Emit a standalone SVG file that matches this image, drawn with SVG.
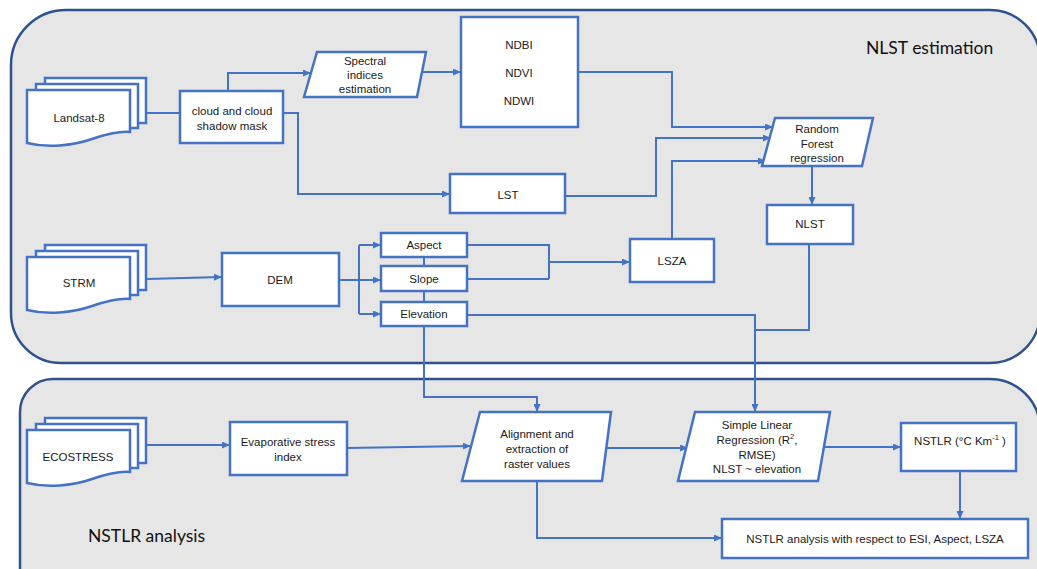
<svg xmlns="http://www.w3.org/2000/svg" xmlns:xlink="http://www.w3.org/1999/xlink" width="1037" height="569" viewBox="0 0 1037 569">
<style>
.panel{fill:#e7e6e6;stroke:#2f528f;stroke-width:2.5}
.box{fill:#fff;stroke:#4472c4;stroke-width:2.5}
.con{fill:none;stroke:#4472c4;stroke-width:2}
.arr{marker-end:url(#ah)}
.t{font-family:"Liberation Sans",Arial,sans-serif;font-size:11.5px;fill:#1a1a1a;text-anchor:middle;dominant-baseline:central}
.pl{font-family:Lato,"Open Sans",sans-serif;font-size:17.5px;fill:#111;dominant-baseline:central}
</style>
<defs>
<marker id="ah" markerWidth="8" markerHeight="7" refX="7" refY="3.5" orient="auto" markerUnits="userSpaceOnUse">
<path d="M0,0 L8,3.5 L0,7 Z" fill="#4472c4"/>
</marker>
<g id="mdoc">
<rect x="18" y="-12" width="101" height="45" class="box"/>
<rect x="9" y="-6" width="102" height="44" class="box"/>
<path d="M0,0 H103 V42 C92,41 80,44 65,49 C45,56 20,58 0,53 Z" class="box"/>
</g>
</defs>

<g id="panel-nlst">
<path class="panel" d="M66,10 H990 A50,50 0 0 1 1040,60 V313 A50,50 0 0 1 990,363 H61 A50,50 0 0 1 11,313 V65 A55,55 0 0 1 66,10 Z"/>
<text class="pl" x="866" y="47">NLST estimation</text>
</g>
<g id="panel-nstlr">
<path class="panel" d="M53,379 H990 A50,50 0 0 1 1040,429 V575 H20 V412 A33,33 0 0 1 53,379 Z"/>
<text class="pl" x="88" y="535">NSTLR analysis</text>
</g>

<g id="connectors">
<path class="con" d="M147,113 H180"/>
<path class="con arr" d="M228,91 V73 H310"/>
<path class="con arr" d="M283,113 H298 V194 H449"/>
<path class="con arr" d="M418,72 H460"/>
<path class="con arr" d="M578,72 H672 V127 H772"/>
<path class="con arr" d="M565,196 H656 V138 H770"/>
<path class="con arr" d="M672,239 V161 H765"/>
<path class="con arr" d="M812,166 V204"/>
<path class="con" d="M809,244 V330 H755"/>
<path class="con arr" d="M147,279 L221,277"/>
<path class="con" d="M339,280 H359 M359,245 V314"/>
<path class="con arr" d="M359,245 H380"/>
<path class="con arr" d="M359,280 H380"/>
<path class="con arr" d="M359,314 H380"/>
<path class="con" d="M424,257 V266 M424,291 V302"/>
<path class="con" d="M467,245 H549 V279 M467,279 H549"/>
<path class="con arr" d="M549,262 H629"/>
<path class="con arr" d="M467,315 H755 V411"/>
<path class="con arr" d="M424,326 V397 H537 V411"/>
<path class="con arr" d="M146,445 H229"/>
<path class="con arr" d="M347,448 L470,446"/>
<path class="con arr" d="M606,448 H687"/>
<path class="con arr" d="M822,447 H900"/>
<path class="con arr" d="M960,471 V518"/>
<path class="con arr" d="M537,481 V538 H721"/>
</g>

<g id="landsat"><use xlink:href="#mdoc" transform="translate(27,90)"/><text class="t" x="79" y="118">Landsat-8</text></g>
<g id="cloud"><rect class="box" x="180" y="91" width="103" height="52"/><text class="t" x="232" y="111">cloud and cloud</text><text class="t" x="232" y="126">shadow mask</text></g>
<g id="spectral"><path class="box" d="M317,52 H426 L417,97 H304 Z"/><text class="t" x="365" y="61">Spectral</text><text class="t" x="365" y="75">indices</text><text class="t" x="365" y="89">estimation</text></g>
<g id="indices"><rect class="box" x="461" y="17" width="117" height="110"/><text class="t" x="519" y="45">NDBI</text><text class="t" x="519" y="73">NDVI</text><text class="t" x="519" y="101">NDWI</text></g>
<g id="lst"><rect class="box" x="450" y="174" width="115" height="39"/><text class="t" x="508" y="195">LST</text></g>
<g id="rf"><path class="box" d="M775,118 H873 L862,166 H762 Z"/><text class="t" x="817" y="129">Random</text><text class="t" x="817" y="143.5">Forest</text><text class="t" x="817" y="158">regression</text></g>
<g id="nlst"><rect class="box" x="767" y="205" width="86" height="39"/><text class="t" x="810" y="224">NLST</text></g>
<g id="strm"><use xlink:href="#mdoc" transform="translate(27,257)"/><text class="t" x="79" y="283">STRM</text></g>
<g id="dem"><rect class="box" x="222" y="253" width="117" height="53"/><text class="t" x="280" y="280">DEM</text></g>
<g id="aspect"><rect class="box" x="381" y="233" width="86" height="24"/><text class="t" x="424" y="245">Aspect</text></g>
<g id="slope"><rect class="box" x="381" y="266" width="86" height="25"/><text class="t" x="424" y="278.5">Slope</text></g>
<g id="elevation"><rect class="box" x="381" y="302" width="86" height="24"/><text class="t" x="424" y="314">Elevation</text></g>
<g id="lsza"><rect class="box" x="630" y="239" width="84" height="43"/><text class="t" x="672" y="261">LSZA</text></g>
<g id="ecostress"><use xlink:href="#mdoc" transform="translate(27,430)"/><text class="t" x="78" y="457">ECOSTRESS</text></g>
<g id="esi"><rect class="box" x="230" y="422" width="117" height="53"/><text class="t" x="288" y="442">Evaporative stress</text><text class="t" x="288" y="457">index</text></g>
<g id="align"><path class="box" d="M480,412 H611 L602,481 H462 Z"/><text class="t" x="537" y="434">Alignment and</text><text class="t" x="537" y="449">extraction of</text><text class="t" x="537" y="464">raster values</text></g>
<g id="slr"><path class="box" d="M695,412 H830 L818,481 H678 Z"/><text class="t" x="757" y="425">Simple Linear</text><text class="t" x="757" y="440">Regression (R<tspan font-size="7.5" dy="-4">2</tspan><tspan dy="4">,</tspan></text><text class="t" x="757" y="455">RMSE)</text><text class="t" x="757" y="469">NLST ~ elevation</text></g>
<g id="nstlr"><rect class="box" x="901" y="423" width="115" height="48"/><text class="t" x="960" y="441">NSTLR (°C Km<tspan font-size="7.5" dy="-4">-1</tspan><tspan dy="4"> )</tspan></text></g>
<g id="analysis"><rect class="box" x="722" y="519" width="306" height="39"/><text class="t" x="875" y="539">NSTLR analysis with respect to ESI, Aspect, LSZA</text></g>
</svg>
